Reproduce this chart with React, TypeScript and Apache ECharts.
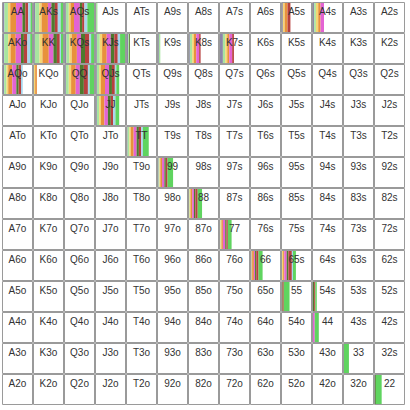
import React, { useEffect, useRef } from "react";
import * as echarts from "echarts";

const ranks = ["A", "K", "Q", "J", "T", "9", "8", "7", "6", "5", "4", "3", "2"];

const actionNames = ["Shove", "Raise 4x", "Raise 3x", "Raise 2.5x", "Raise 2x", "Min-raise", "Call big", "Call", "Limp"];
const actionColors = ["#8d86a9", "#a8e5a0", "#f4d675", "#e8913b", "#e363d3", "#4e7b2e", "#b7413e", "#a6d6ec", "#5fd45f"];

const playedHands = ["AA", "AKs", "AQs", "AJs", "A5s", "A4s", "AKo", "KK", "KQs", "KJs", "KTs", "K9s", "K8s", "K7s", "AQo", "KQo", "QQ", "QJs", "JJ", "TT", "99", "88", "77", "66", "65s", "55", "54s", "44", "33", "22"];

const shove = [5, 4, 3, 0, 3, 4, 4, 3, 5, 3, 4, 3, 3, 10, 4, 0, 3, 3, 3, 2, 2, 0, 0, 2, 0, 0, 0, 0, 0, 0];
const raise4x = [12, 14, 10, 5, 0, 6, 14, 16, 10, 10, 3, 5, 8, 8, 8, 0, 10, 8, 8, 6, 3, 2, 2, 0, 0, 0, 0, 0, 0, 0];
const raise3x = [8, 8, 6, 0, 6, 8, 8, 10, 8, 8, 0, 0, 6, 7, 6, 4, 8, 6, 6, 5, 3, 3, 3, 2, 4, 0, 0, 0, 0, 0];
const raise25x = [20, 22, 12, 0, 10, 8, 18, 22, 18, 16, 0, 0, 8, 7, 14, 6, 16, 14, 12, 10, 6, 6, 5, 6, 4, 0, 0, 0, 0, 0];
const raise2x = [22, 12, 20, 0, 0, 12, 18, 16, 14, 14, 0, 0, 10, 10, 14, 0, 14, 14, 12, 10, 8, 6, 8, 4, 8, 0, 0, 6, 0, 0];
const minRaise = [10, 12, 8, 0, 0, 0, 10, 12, 14, 12, 3, 0, 0, 0, 8, 0, 14, 10, 10, 8, 5, 5, 4, 4, 6, 2, 4, 0, 0, 3];
const callBig = [10, 10, 8, 0, 10, 0, 12, 10, 15, 12, 0, 0, 5, 6, 8, 0, 14, 10, 8, 8, 6, 8, 5, 8, 12, 4, 4, 0, 0, 0];
const call = [8, 10, 10, 0, 0, 0, 10, 4, 6, 8, 0, 0, 0, 0, 6, 0, 6, 5, 8, 6, 0, 0, 0, 0, 4, 0, 0, 0, 0, 0];
const limp = [5, 8, 23, 0, 0, 0, 6, 7, 10, 17, 0, 0, 0, 0, 0, 0, 15, 10, 13, 20, 19, 15, 13, 14, 10, 20, 5, 14, 17, 20];

const actionValues = [shove, raise4x, raise3x, raise25x, raise2x, minRaise, callBig, call, limp];

function handName(r: number, c: number): string {
  if (r === c) return ranks[r] + ranks[c];
  if (c > r) return ranks[r] + ranks[c] + "s";
  return ranks[c] + ranks[r] + "o";
}

export default function App() {
  const ref = useRef<HTMLDivElement>(null);
  useEffect(() => {
    document.body.style.margin = "0";
    if (!ref.current) return;
    const chart = echarts.init(ref.current, null, { renderer: "svg" });
    const data: any[] = [];
    for (let r = 0; r < 13; r++) {
      for (let c = 0; c < 13; c++) {
        const name = handName(r, c);
        const idx = playedHands.indexOf(name);
        const freqs = actionValues.map((arr) => (idx >= 0 ? arr[idx] : 0));
        data.push({ value: [c, r], name, freqs });
      }
    }
    chart.setOption({
      animation: false,
      grid: { left: 2, top: 2, width: 403, height: 403 },
      xAxis: { type: "category", data: ranks, show: false },
      yAxis: { type: "category", data: ranks, inverse: true, show: false },
      series: [
        {
          type: "custom",
          data,
          renderItem: (params: any, api: any) => {
            const item = data[params.dataIndex];
            const center = api.coord([api.value(0), api.value(1)]);
            const size = api.size([1, 1]);
            const w = size[0];
            const h = size[1];
            const x0 = center[0] - w / 2;
            const y0 = center[1] - h / 2;
            const inner = w - 2;
            const children: any[] = [];
            let x = x0 + 1;
            item.freqs.forEach((f: number, i: number) => {
              if (f <= 0) return;
              const bw = (inner * f) / 100;
              children.push({
                type: "rect",
                shape: { x, y: y0 + 1, width: bw, height: h - 2 },
                style: { fill: actionColors[i] },
              });
              x += bw;
            });
            children.push({
              type: "rect",
              shape: { x: x0 + 0.5, y: y0 + 0.5, width: w - 1, height: h - 1 },
              style: { fill: "none", stroke: "#9a9a9a", lineWidth: 1 },
            });
            children.push({
              type: "text",
              style: {
                x: center[0],
                y: y0 + 4,
                text: item.name,
                fill: "#333",
                font: "10px 'Liberation Sans', Arial, sans-serif",
                textAlign: "center",
                textVerticalAlign: "top",
              },
            });
            return { type: "group", children };
          },
        },
      ],
    });
    return () => chart.dispose();
  }, []);
  return <div ref={ref} style={{ width: 410, height: 410 }} />;
}
